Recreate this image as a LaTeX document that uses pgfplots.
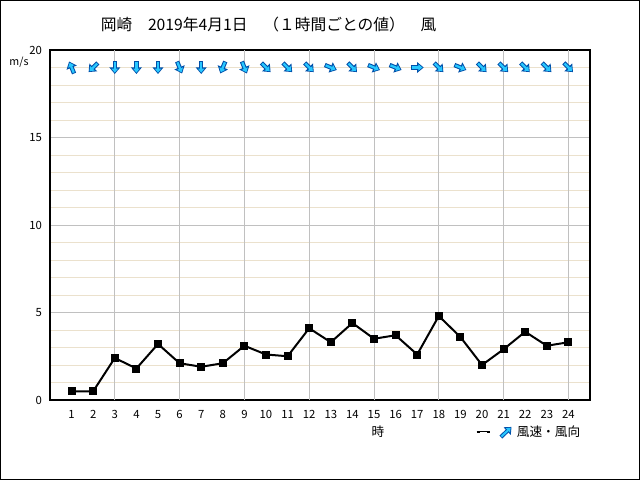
\documentclass[border=0pt]{standalone}
\usepackage{pgfplots}
\pgfplotsset{compat=1.18}
\usepackage{pgfplotstable}
\usepackage{fontspec}
\setmainfont{Noto Sans CJK JP}
\usetikzlibrary{arrows.meta}
\definecolor{arrfill}{RGB}{40,200,255}
\definecolor{arredge}{RGB}{0,80,170}
\definecolor{majgrid}{RGB}{192,192,192}
\definecolor{mingrid}{RGB}{235,225,205}

\pgfplotstableread{
x y
1 0.5
2 0.5
3 2.4
4 1.8
5 3.2
6 2.1
7 1.9
8 2.1
9 3.1
10 2.6
11 2.5
12 4.1
13 3.3
14 4.4
15 3.5
16 3.7
17 2.6
18 4.8
19 3.6
20 2.0
21 2.9
22 3.9
23 3.1
24 3.3
}\speed

\pgfplotstableread{
x u v
1 -0.230 0.686
2 -0.425 -0.525
3 0 -0.743
4 0 -0.743
5 0 -0.743
6 0.230 -0.686
7 0 -0.743
8 -0.230 -0.686
9 0.230 -0.686
10 0.425 -0.525
11 0.425 -0.525
12 0.425 -0.525
13 0.556 -0.284
14 0.425 -0.525
15 0.556 -0.284
16 0.556 -0.284
17 0.602 0
18 0.425 -0.525
19 0.556 -0.284
20 0.425 -0.525
21 0.425 -0.525
22 0.425 -0.525
23 0.425 -0.525
24 0.425 -0.525
}\dirs

\begin{document}
\begin{tikzpicture}
\path (0,0) rectangle (480pt,360pt);
\draw[line width=0.75pt] (0.375pt,0.375pt) rectangle (479.625pt,359.625pt);
\node[font=\fontsize{11.8}{13}\selectfont] at (201.4pt,341.25pt) {岡崎　2019年4月1日　（１時間ごとの値）　風};
\node[font=\fontsize{8}{9}\selectfont] at (14.25pt,313.5pt) {m/s};
\node[font=\fontsize{9.5}{10}\selectfont] at (283.5pt,36pt) {時};
\begin{axis}[
 at={(37.5pt,60pt)}, anchor=south west,
 scale only axis, width=405pt, height=262.5pt,
 xmin=0, xmax=25, ymin=0, ymax=20,
 xtick={1,...,24}, ytick={0,5,10,15,20}, minor ytick={1,...,19},
 ymajorgrids, yminorgrids,
 major grid style={majgrid, line width=0.75pt},
 minor grid style={mingrid, line width=0.75pt},
 extra x ticks={3,6,...,24}, extra x tick labels={},
 extra x tick style={grid=major, major tick length=0pt},
 major tick length=0pt, minor tick length=0pt,
 axis line style={line width=1.1pt},
 tick label style={font=\fontsize{8.5}{9}\selectfont},
 /pgf/number format/assume math mode=true,
 xticklabel style={yshift=-4.5pt},
 yticklabel style={xshift=-2.5pt},
 legend style={at={(0.787,-0.0914)}, anchor=west, draw=none, fill=none,
   font=\fontsize{9.5}{10}\selectfont, inner sep=0pt},
 legend image code/.code={
   \path[draw=none] (0pt,0pt) -- (27pt,0pt);
   \draw[black, line width=0.75pt] (0pt,0pt) -- (7.5pt,0pt);
   \draw[black, line width=2.2pt] (-1.1pt,0pt) -- (1.1pt,0pt);
   \draw[black, line width=2.2pt] (6.4pt,0pt) -- (8.6pt,0pt);
   \draw[arredge, line width=3pt, -{Triangle[width=7.5pt,length=4.5pt]}] (17pt,-3.8pt) -- (25pt,3.8pt);
   \draw[arrfill, line width=1.5pt, shorten >=0.9pt, shorten <=0.6pt, -{Triangle[width=4.2pt,length=2.8pt]}] (17pt,-3.8pt) -- (25pt,3.8pt);
 },
]
\addplot[forget plot, no marks, draw=arredge, line width=3.3pt,
  quiver={u=\thisrow{u}, v=\thisrow{v}},
  -{Triangle[width=8pt,length=5pt]}]
  table[x expr=\thisrow{x}-0.5*\thisrow{u}, y expr=19-0.5*\thisrow{v}] {\dirs};
\addplot[forget plot, no marks, draw=arrfill, line width=1.7pt,
  quiver={u=\thisrow{u}, v=\thisrow{v}},
  shorten >=1pt, shorten <=0.7pt,
  -{Triangle[width=4.6pt,length=3pt]}]
  table[x expr=\thisrow{x}-0.5*\thisrow{u}, y expr=19-0.5*\thisrow{v}] {\dirs};
\addplot[black, line width=1.5pt, mark=square*, mark size=2.25pt] table[x=x, y=y] {\speed};
\addlegendentry{風速・風向}
\end{axis}
\end{tikzpicture}
\end{document}
